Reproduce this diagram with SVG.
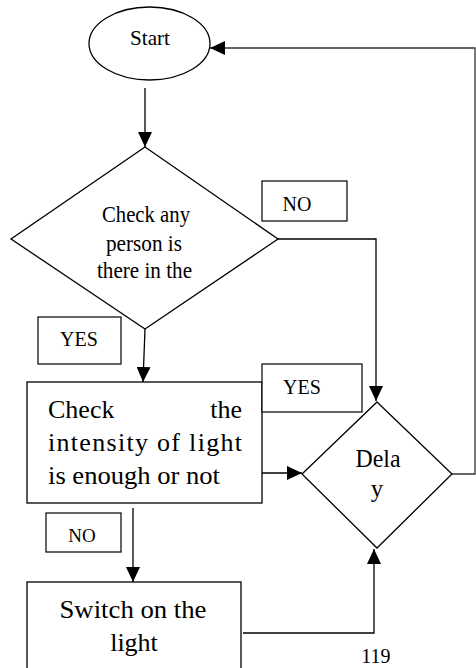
<svg xmlns="http://www.w3.org/2000/svg" width="476" height="668" viewBox="0 0 476 668">
<style>
.shape{fill:#fff;stroke:#000;stroke-width:1.3}
.lbl{fill:#fff;stroke:#000;stroke-width:1.2}
.conn{fill:none;stroke:#000;stroke-width:1.3}
text{font-family:"Liberation Serif","Times New Roman",serif;fill:#000}
.c{text-anchor:middle}
</style>
<defs>
<marker id="ah" markerUnits="userSpaceOnUse" markerWidth="15" markerHeight="14" refX="15" refY="7" orient="auto">
<path d="M0,0 L15,7 L0,14 z" fill="#000"/>
</marker>
</defs>
<rect width="476" height="668" fill="#fff"/>
<g id="connectors">
<line class="conn" x1="145" y1="88" x2="145" y2="147" marker-end="url(#ah)"/>
<line class="conn" x1="145" y1="329" x2="143" y2="382" marker-end="url(#ah)"/>
<polyline class="conn" points="278,239 376,239 376,401" marker-end="url(#ah)"/>
<line class="conn" x1="262" y1="473" x2="302" y2="473" marker-end="url(#ah)"/>
<polyline class="conn" points="452,474 475,474 475,48 210,48" marker-end="url(#ah)" style="stroke:#333"/>
<line class="conn" x1="133" y1="508" x2="133" y2="582" marker-end="url(#ah)"/>
<polyline class="conn" points="243,633 374,633 374,549" marker-end="url(#ah)"/>
</g>
<g id="start">
<ellipse class="shape" cx="149.5" cy="43.5" rx="60.5" ry="36.5"/>
<text class="c" x="150" y="45" font-size="22" textLength="40" lengthAdjust="spacingAndGlyphs">Start</text>
</g>
<g id="check-person">
<polygon class="shape" points="145,147 278,239 145,329 11,239"/>
<text class="c" x="146" y="222" font-size="24" textLength="88" lengthAdjust="spacingAndGlyphs">Check any</text>
<text class="c" x="144" y="251" font-size="24" textLength="76" lengthAdjust="spacingAndGlyphs">person is</text>
<text class="c" x="144.5" y="278" font-size="24" textLength="95" lengthAdjust="spacingAndGlyphs">there in the</text>
</g>
<g id="check-light">
<rect class="shape" x="27" y="382" width="235" height="121"/>
<text x="48" y="418" font-size="26">Check</text>
<text x="242" y="418" font-size="26" text-anchor="end">the</text>
<text x="48" y="451" font-size="26" textLength="194" lengthAdjust="spacing">intensity of light</text>
<text x="48" y="484" font-size="26" textLength="172" lengthAdjust="spacingAndGlyphs">is enough or not</text>
</g>
<g id="delay">
<polygon class="shape" points="377,402 452,474 377,548 302,474"/>
<text class="c" x="378" y="467" font-size="25" textLength="45" lengthAdjust="spacingAndGlyphs">Dela</text>
<text class="c" x="377" y="497" font-size="25">y</text>
</g>
<g id="switch-on">
<rect class="shape" x="27" y="582" width="214" height="100"/>
<text class="c" x="133" y="618" font-size="26" textLength="147" lengthAdjust="spacingAndGlyphs">Switch on the</text>
<text class="c" x="134" y="651" font-size="26">light</text>
</g>
<g id="label-no-top">
<rect class="lbl" x="262" y="181" width="85" height="40"/>
<text class="c" x="297" y="211" font-size="20">NO</text>
</g>
<g id="label-yes-left">
<rect class="lbl" x="38" y="317" width="83" height="47"/>
<text class="c" x="79" y="346" font-size="20">YES</text>
</g>
<g id="label-yes-right">
<rect class="lbl" x="262" y="364" width="100" height="48"/>
<text class="c" x="302" y="394" font-size="20">YES</text>
</g>
<g id="label-no-bottom">
<rect class="lbl" x="46" y="513" width="75" height="39"/>
<text class="c" x="82" y="542" font-size="19">NO</text>
</g>
<g id="page-number">
<text class="c" x="376" y="663" font-size="20">119</text>
</g>
</svg>
